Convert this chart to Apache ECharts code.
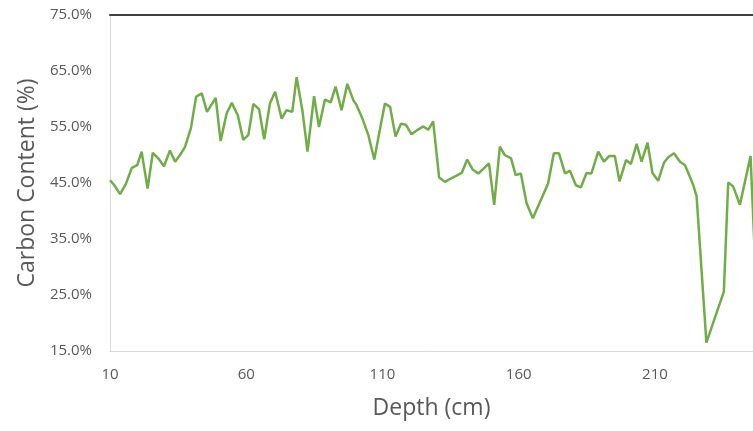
<!DOCTYPE html>
<html>
<head>
<meta charset="utf-8">
<script src="https://cdn.jsdelivr.net/npm/echarts@6/dist/echarts.min.js"></script>
<style>
html,body{margin:0;padding:0;background:#fff;}
#chart{width:753px;height:431px;}
</style>
</head>
<body>
<div id="chart"></div>
<script>
// Depth (cm)
var depths = [10,11.6,13.7,15.8,18,20,21.6,23.8,25.7,27.7,29.8,32,33.9,35.7,37.5,39.7,41.6,43.7,45.6,48.8,
  50.6,52.8,54.7,56.9,58.9,60.8,62.6,64.7,66.6,68.7,70.6,73.0,74.8,76.9,78.5,80.6,82.5,84.9,86.7,88.9,
  91.0,92.8,95.0,97.1,99.3,100.5,102.4,104.8,107.0,108.8,110.9,112.8,114.8,116.8,118.6,120.7,122.9,125.0,126.8,128.6,
  130.8,132.9,135.1,137.2,139.1,141.1,143.1,145.2,147.2,149.1,151.0,153.1,154.9,157.2,158.9,160.8,162.9,165.2,170.8,172.9,
  174.8,177.0,178.8,181.0,182.8,184.9,186.7,189.2,191.3,193.2,195.3,197.0,199.4,201.2,203.3,205.1,207.3,209.1,211.2,213.3,
  214.9,217.0,219.2,221.0,222.6,224.1,225.3,228.9,235.3,236.9,238.7,241.2,245.1,246.5];
// Carbon content (%)
var carbon = [45.5,44.6,43.0,44.8,47.7,48.2,50.6,44.0,50.4,49.4,48.0,50.8,48.8,50.0,51.4,54.8,60.4,61.0,57.7,60.2,
  52.5,57.4,59.3,57.1,52.7,53.6,59.1,58.2,52.8,59.2,61.3,56.5,58.0,57.7,63.9,58.0,50.6,60.5,55.0,59.9,
  59.4,62.2,58.0,62.7,59.8,58.9,56.8,53.6,49.2,53.9,59.2,58.6,53.3,55.6,55.4,53.7,54.5,55.1,54.5,56.0,
  46.0,45.2,45.8,46.3,46.8,49.2,47.4,46.7,47.6,48.5,41.1,51.5,50.0,49.4,46.4,46.7,41.4,38.7,44.9,50.3,
  50.3,46.7,47.2,44.6,44.2,46.8,46.7,50.6,48.8,49.8,49.8,45.3,49.1,48.4,52.0,48.8,52.2,46.8,45.4,48.6,
  49.6,50.3,48.8,48.2,46.4,44.6,42.6,16.5,25.6,45.1,44.4,41.1,49.8,34.0];
var xTicks = [10,60,110,160,210];
var yTicks = [15,25,35,45,55,65,75];

var pts = depths.map(function(d,i){return [d, carbon[i]];});
var chart = echarts.init(document.getElementById('chart'), null, {renderer:'canvas'});
var font = 'Open Sans';
chart.setOption({
  animation:false,
  grid:{left:110, top:15, bottom:80, right:0, containLabel:false},
  xAxis:[{
    type:'value', min:10, max:246, interval:50,
    name:'Depth (cm)', nameLocation:'middle', nameGap:46,
    nameTextStyle:{color:'#595959', fontSize:23, fontFamily:font},
    axisLine:{show:true, lineStyle:{color:'#D9D9D9', width:1}},
    axisTick:{show:false},
    splitLine:{show:false},
    axisLabel:{color:'#595959', fontSize:15, fontFamily:font, margin:16, showMaxLabel:false,
      formatter:function(v){return xTicks.indexOf(v)>=0 ? String(v) : '';}}
  },{
    type:'value', min:10, max:246, position:'top',
    axisLine:{show:true, lineStyle:{color:'#404040', width:2}},
    axisTick:{show:false}, axisLabel:{show:false}, splitLine:{show:false}
  }],
  yAxis:{
    type:'value', min:15, max:75, interval:10,
    name:'Carbon Content (%)', nameLocation:'middle', nameGap:70,
    nameTextStyle:{color:'#595959', fontSize:23, fontFamily:font},
    axisLine:{show:true, lineStyle:{color:'#D9D9D9', width:1}},
    axisTick:{show:false},
    splitLine:{show:false},
    axisLabel:{color:'#595959', fontSize:15, fontFamily:font, margin:18,
      formatter:function(v){return yTicks.indexOf(v)>=0 ? v.toFixed(1)+'%' : '';}}
  },
  series:[{
    type:'line', data:pts, xAxisIndex:0,
    showSymbol:false, symbol:'none', smooth:false,
    lineStyle:{color:'#70AD47', width:2.5},
    clip:true
  }]
});
</script>
</body>
</html>
